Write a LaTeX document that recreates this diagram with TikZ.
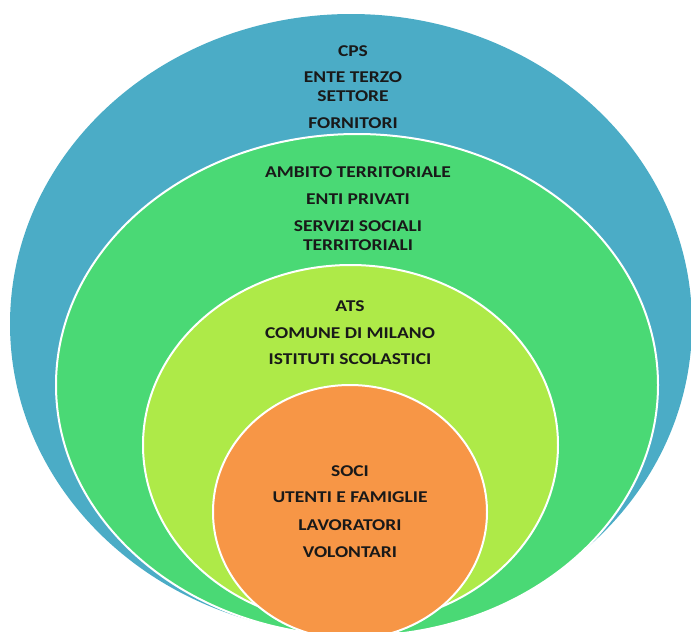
\documentclass[tikz,border=0pt]{standalone}
\usepackage{fontspec}
\setmainfont{Carlito}[FakeStretch=1.18]
\begin{document}
\begin{tikzpicture}[x=1pt,y=-1pt,
  ring/.style={draw=white,line width=2pt},
  lbl/.style={inner sep=0pt,font=\bfseries\fontsize{16.5}{19}\selectfont,text=black!90}]
\definecolor{outerblue}{HTML}{4BACC6}
\definecolor{midgreen}{HTML}{4AD975}
\definecolor{limegreen}{HTML}{AEEA48}
\definecolor{coreorange}{HTML}{F79646}
\useasboundingbox (0,0) rectangle (691,632);
\clip (0,0) rectangle (691,632);
% nested ellipses, outermost first
\fill[outerblue] (351,324) ellipse [x radius=341pt, y radius=310pt];
\filldraw[ring,fill=midgreen] (357,385) ellipse [x radius=301pt, y radius=251pt];
\filldraw[ring,fill=limegreen] (350.5,445) ellipse [x radius=207.5pt, y radius=180pt];
\filldraw[ring,fill=coreorange] (350,512) ellipse [x radius=137pt, y radius=127pt];
% outer ring
\node[lbl] (cps) at (353,51) {CPS};
\node[lbl] (ets1) at (353,77) {ENTE TERZO};
\node[lbl] (ets2) at (353,96) {SETTORE};
\node[lbl] (forn) at (353,123) {FORNITORI};
% second ring
\node[lbl] (ambito) at (358,172) {AMBITO TERRITORIALE};
\node[lbl] (privati) at (358,199) {ENTI PRIVATI};
\node[lbl] (ss1) at (358,226) {SERVIZI SOCIALI};
\node[lbl] (ss2) at (358,245) {TERRITORIALI};
% third ring
\node[lbl] (ats) at (350,306) {ATS};
\node[lbl] (comune) at (350,333) {COMUNE DI MILANO};
\node[lbl] (scuole) at (350,359) {ISTITUTI SCOLASTICI};
% core
\node[lbl] (soci) at (350,471) {SOCI};
\node[lbl] (utenti) at (350,497) {UTENTI E FAMIGLIE};
\node[lbl] (lavor) at (350,525) {LAVORATORI};
\node[lbl] (volont) at (350,552) {VOLONTARI};
\end{tikzpicture}
\end{document}
